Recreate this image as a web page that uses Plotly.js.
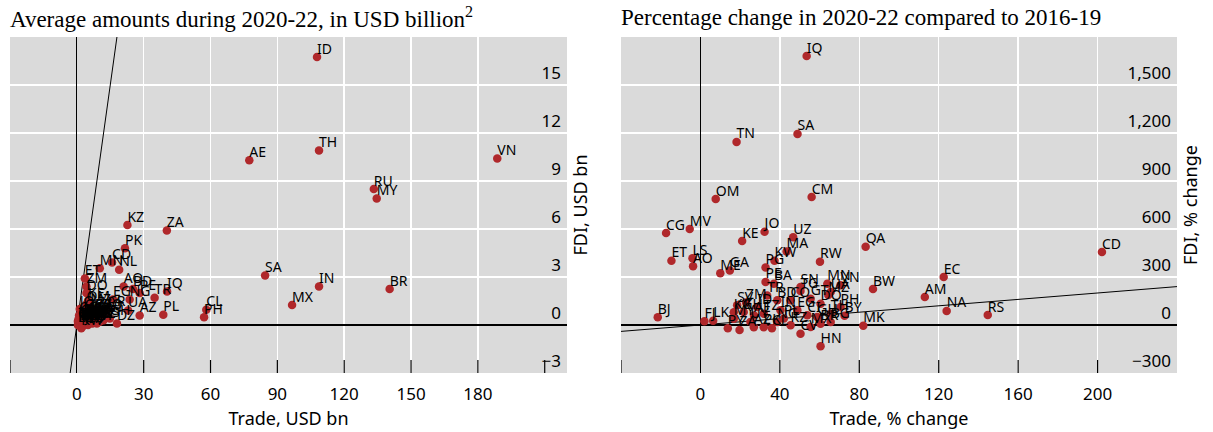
<!DOCTYPE html>
<html><head><meta charset="utf-8">
<script src="https://cdn.plot.ly/plotly-3.0.1.min.js"></script>
<style>html,body{margin:0;padding:0;background:#fff}#chart{width:1213px;height:432px}</style>
</head><body><div id="chart"></div>
<script>
// ---------- Left panel: average amounts 2020-22, USD bn ----------
const leftCountries = ['ID','TH','AE','VN','RU','MY','KZ','ZA','PK','CD','MN','NL','SA','IN','BR','MX','CL','PH','PL','TR','IQ','PE','AO','BD','ET','ZM','DO','KE','EG','NG','AZ','UA',
  'GH','CO','MA','TZ','JO','OM','QA','KW','UZ','TN','CM','CG','EC','BY','RS','AM','GE','MZ','SN','BW','NA','RW','LK','HN','MK','ME','BA','TG','KG','TJ','BJ','FJ','LS','MV','GA','PG','CI','UG','TM','AL','CR','GT','PY','UY','BO','PA','SV','JM','DZ','LB'];
const leftTrade = [107.8,108.7,77.4,188.7,133.3,134.6,22.7,40.4,21.6,15.8,10.3,19.0,84.5,108.7,140.4,96.6,58.1,57.1,38.8,34.9,40.5,28.2,21.0,25.2,3.6,4.3,4.3,5.0,16.2,23.7,28.2,23.0,
  14.8,11.8,6.6,10.3,1.3,4.3,0.5,2.0,3.0,5.0,2.0,1.0,8.0,9.0,12.0,2.5,3.5,6.0,4.0,1.5,1.8,0.8,7.0,6.0,5.0,0.6,3.0,1.2,1.5,1.0,2.0,0.5,0.6,0.8,2.0,4.0,8.0,3.0,2.5,3.0,14.0,13.0,10.0,11.0,6.0,9.0,7.0,3.0,18.0,5.0];
const leftFdi = [16.75,10.9,10.3,10.4,8.5,7.9,6.25,5.9,4.8,3.9,3.55,3.45,3.1,2.4,2.25,1.25,0.96,0.48,0.64,1.7,2.1,2.0,2.4,2.25,2.9,2.4,2.0,1.5,1.6,1.6,0.6,0.9,
  0.4,0.8,0.7,0.2,1.0,1.3,0.2,-0.2,0.5,0.3,0.1,0.6,0.5,0.1,0.3,0.2,0.8,1.1,0.3,0.1,0.2,0.1,0.2,0.4,0.3,0.3,0.4,0.1,0.3,0.2,0.1,0.0,0.0,0.3,0.5,0.4,0.8,0.6,-0.1,0.4,1.0,0.6,0.3,0.9,0.2,0.6,0.1,0.3,0.1,0.0];

// ---------- Right panel: % change 2020-22 vs 2016-19 ----------
const rightCountries = ['IQ','SA','TN','OM','CM','CG','MV','KE','JO','UZ','MA','QA','CD','ET','LS','AO','ME','GA','KW','PG','RW','EC','BW','AM','NA','RS','BJ','FJ','LK','HN','MK','BY','MZ',
  'PE','BA','SN','MN','VN','TG','UA','TR','BD','CO','GT','DO','PH','SV','KH','ID','KG','TZ','IN','EG','CI','GH','TH','BG','MY','PY','AZ','PK','UY','NG','CV','KZ','MX','BR','ZA','CL','PL','AE','ZM'];
const rightTrade = [53.5,48.9,18.2,7.7,56.0,-17.3,-5.4,21.0,32.3,46.7,43.4,83.2,202.2,-14.6,-4.0,-3.7,10.0,14.8,37.3,32.8,60.2,122.5,86.9,113.0,124.0,144.7,-21.5,2.0,6.4,60.5,82.0,72.6,64.4,
  32.8,37.0,50.4,63.9,70.6,50.4,65.6,33.6,38.7,45.4,55.5,60.5,70.6,18.5,21.8,28.6,16.8,31.9,40.3,48.8,53.8,58.8,65.6,65.6,16.8,13.8,26.9,31.9,25.2,38.7,50.4,45.4,55.5,60.5,19.7,36.0,42.0,27.0,23.0];
const rightFdi = [1681,1194,1144,787,800,575,600,525,583,548,460,489,456,402,417,367,323,340,402,360,396,300,225,175,88,62,48,23,27,-133,-4,58,187,
  269,258,237,258,248,212,206,185,154,154,164,133,112,123,81,112,79,71,92,92,61,50,71,19,39,-21,-14,-14,19,19,-54,-2,-12,8,-31,-20,40,60,140];

// axis ticks
const leftXTicks = [-30,0,30,60,90,120,150,180,210];
const leftXTickText = ['','0','30','60','90','120','150','180',''];
const leftYTicks = [-3,0,3,6,9,12,15];
const rightXTicks = [-40,0,40,80,120,160,200];
const rightXTickText = ['','0','40','80','120','160','200'];
const rightYTicks = [-300,0,300,600,900,1200,1500];
// axis ranges; the 45-degree reference line (FDI = trade) spans the x range
const leftXRange = [-30, 220];
const leftYRange = [-3, 18];
const rightXRange = [-40, 240];
const rightYRange = [-300, 1800];

const RED = '#b0282b';
const SANS = 'Noto Sans, Open Sans, sans-serif';
const labelFont = {family: SANS, size: 14, color: '#000'};

function panel(xa, ya, cats, xs, ys, range) {
  return [
    {x: range, y: range, xaxis: xa, yaxis: ya, mode: 'lines', line: {color: '#000', width: 1}, hoverinfo: 'skip', showlegend: false},
    {x: xs, y: ys, xaxis: xa, yaxis: ya, mode: 'markers', marker: {color: RED, size: 8.5}, showlegend: false},
    {x: xs, y: ys, text: cats, xaxis: xa, yaxis: ya, mode: 'text', textposition: 'top right', textfont: labelFont, showlegend: false, cliponaxis: false}
  ];
}

const data = [].concat(
  panel('x', 'y', leftCountries, leftTrade, leftFdi, leftXRange),
  panel('x2', 'y2', rightCountries, rightTrade, rightFdi, rightXRange)
);

const W = 1213, H = 432;
const yDom = [1 - 373 / H, 1 - 37 / H];
const tickFont = {family: SANS, size: 17, color: '#000'};
const axTitleFont = {family: SANS, size: 18, color: '#000'};

function xAxis(dom, range, tv, tt, title, anchor) {
  return {
    domain: dom, range: range, anchor: anchor, tickmode: 'array', tickvals: tv, ticktext: tt,
    ticks: '', showgrid: true, gridcolor: '#ffffff', gridwidth: 1.5,
    zeroline: true, zerolinecolor: '#000', zerolinewidth: 1.3, showline: false, tickfont: tickFont, ticklabelstandoff: 9,
    title: {text: title, font: axTitleFont, standoff: 8}, automargin: false, fixedrange: true
  };
}
function yAxis(range, tv, title, anchor, fmt) {
  return {
    domain: yDom, range: range, anchor: anchor, side: 'right', tickmode: 'array', tickvals: tv,
    tickformat: fmt, ticks: '', ticklabelposition: 'inside', ticklabelshift: -12, ticklabelstandoff: 3,
    showgrid: true, gridcolor: '#ffffff', gridwidth: 1.5,
    zeroline: true, zerolinecolor: '#000', zerolinewidth: 1.3, showline: false, tickfont: tickFont,
    title: {text: title, font: axTitleFont, standoff: 14}, automargin: false, fixedrange: true
  };
}

// inside tick marks on the x axes, built from the tick arrays
const shapes = [];
function addTicks(xr, yr, xt) {
  xt.forEach(v => {
    shapes.push({type: 'line', layer: 'above', xref: xr, yref: yr + ' domain', ysizemode: 'pixel', yanchor: 0, x0: v, x1: v, y0: 0, y1: 13, line: {color: '#000000', width: 1.2}});
  });
}
addTicks('x', 'y', leftXTicks.filter(v => v !== 0));
addTicks('x2', 'y2', rightXTicks.filter(v => v !== 0));

const layout = {
  width: W, height: H, autosize: false,
  margin: {l: 0, r: 0, t: 0, b: 0, pad: 0},
  paper_bgcolor: '#ffffff', plot_bgcolor: '#dadada',
  showlegend: false,
  xaxis: xAxis([10 / W, 567 / W], leftXRange, leftXTicks, leftXTickText, 'Trade, USD bn', 'y'),
  yaxis: yAxis(leftYRange, leftYTicks, 'FDI, USD bn', 'x', 'd'),
  xaxis2: xAxis([621 / W, 1177 / W], rightXRange, rightXTicks, rightXTickText, 'Trade, % change', 'y2'),
  yaxis2: yAxis(rightYRange, rightYTicks, 'FDI, % change', 'x2', ',d'),
  shapes: shapes,
  annotations: [
    {xref: 'paper', yref: 'paper', x: 8 / W, y: 1 - 18 / H, xanchor: 'left', yanchor: 'middle', showarrow: false,
     text: 'Average amounts during 2020-22, in USD billion<sup>2</sup>', font: {family: 'Liberation Serif, Times New Roman, serif', size: 23, color: '#000'}},
    {xref: 'paper', yref: 'paper', x: 619 / W, y: 1 - 18 / H, xanchor: 'left', yanchor: 'middle', showarrow: false,
     text: 'Percentage change in 2020-22 compared to 2016-19', font: {family: 'Liberation Serif, Times New Roman, serif', size: 23, color: '#000'}}
  ]
};

Plotly.newPlot('chart', data, layout, {displayModeBar: false, staticPlot: true});
</script>
</body></html>
